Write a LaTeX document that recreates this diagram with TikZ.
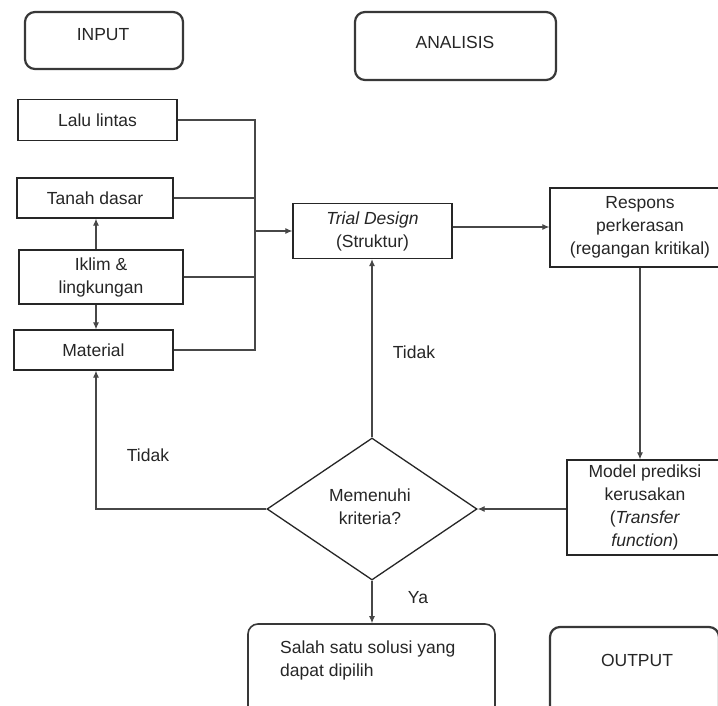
\documentclass[tikz,border=0pt]{standalone}
\usepackage{fontspec}
\setmainfont{Liberation Sans}
\usetikzlibrary{shapes.geometric,arrows.meta,calc}
\newcommand{\fsz}{\fontsize{17.5}{23}\selectfont}
\begin{document}
\begin{tikzpicture}[x=1pt,y=-1pt,
  conn/.style={draw=black!72, line width=1.1pt},
  arr/.style={conn, -{Latex[length=7pt,width=6pt]}},
  sqbox/.style={draw=black!85, line width=1.3pt, rectangle, inner sep=0pt, align=center, font=\fsz, text=black!85},
  rbox/.style={draw=black!78, line width=2.2pt, rectangle, rounded corners=10pt, inner sep=0pt},
  lbl/.style={font=\fsz, inner sep=0pt, text=black!85},
  dia/.style={draw=black!85, line width=1.3pt, diamond, inner sep=0pt, align=center, font=\fsz}]
\useasboundingbox (0,0) rectangle (718,706);
\clip (0,0) rectangle (718,706);
\fill[white] (0,0) rectangle (718,706);

% headers
\node[rbox, minimum width=158pt, minimum height=57pt] (input) at (104,40.5) {};
\node[lbl] (inputt) at (103,35) {INPUT};
\node[rbox, minimum width=201pt, minimum height=68pt] (analisis) at (455.5,46) {};
\node[lbl] (analisist) at (455,42) {ANALISIS};

% inputs
\node[sqbox, minimum width=159pt, minimum height=41pt] (lalu) at (97.5,120) {Lalu lintas};
\node[sqbox, minimum width=156pt, minimum height=40pt] (tanah) at (95,198) {Tanah dasar};
\node[sqbox, minimum width=164pt, minimum height=54pt] (iklim) at (101,277) {Iklim \&\\lingkungan};
\node[sqbox, minimum width=159pt, minimum height=40pt] (material) at (93.5,350) {Material};

% analysis
\node[sqbox, minimum width=159pt, minimum height=55pt] (trial) at (372.5,231) {\textit{Trial Design}\\(Struktur)};
\node[sqbox, minimum width=180pt, minimum height=79pt] (respons) at (640,227.5) {Respons\\perkerasan\\(regangan kritikal)};
\node[sqbox, minimum width=156pt, minimum height=95pt] (model) at (645,507.5) {Model prediksi\\kerusakan\\(\textit{Transfer}\\\textit{function})};
\node[dia, minimum width=210pt, minimum height=142pt] (crit) at (372,509) {};
\node[lbl, align=center] (critt) at (370,507) {Memenuhi\\kriteria?};

% outputs
\node[rbox, line width=1.6pt, minimum width=247pt, minimum height=96pt] (salah) at (371.5,672) {};
\node[lbl, align=left, anchor=west] (salaht) at (280,660) {Salah satu solusi yang\\dapat dipilih};
\node[rbox, minimum width=169pt, minimum height=93pt] (output) at (634.5,673.5) {};
\node[lbl] (outputt) at (637,660) {OUTPUT};

% helper coordinates
\coordinate (bus) at (255,0);
\coordinate (leftx) at (96,0);

% bus connectors
\draw[conn] (lalu.east) -| (bus |- material.east) -- (material.east);
\draw[conn] (tanah.east) -- (tanah.east -| bus);
\draw[conn] (iklim.east) -- (iklim.east -| bus);
\draw[arr] (bus |- trial.west) -- (trial.west);

% input arrows
\draw[arr] (iklim.north -| leftx) -- (tanah.south -| leftx);
\draw[arr] (iklim.south -| leftx) -- (material.north -| leftx);

% analysis flow
\draw[arr] (trial.east |- 0,227) -- (respons.west |- 0,227);
\draw[arr] (respons.south) -- (respons.south |- model.north);
\draw[arr] (model.west |- crit.east) -- (crit.east);
\draw[arr] (crit.north) -- (crit.north |- trial.south);
\draw[arr] (crit.west) -| (leftx |- material.south);
\draw[arr] (crit.south) -- (crit.south |- salah.north);

% labels
\node[lbl] (tidak1) at (414,352) {Tidak};
\node[lbl] (tidak2) at (148,455) {Tidak};
\node[lbl] (ya) at (418,598) {Ya};
\end{tikzpicture}
\end{document}
